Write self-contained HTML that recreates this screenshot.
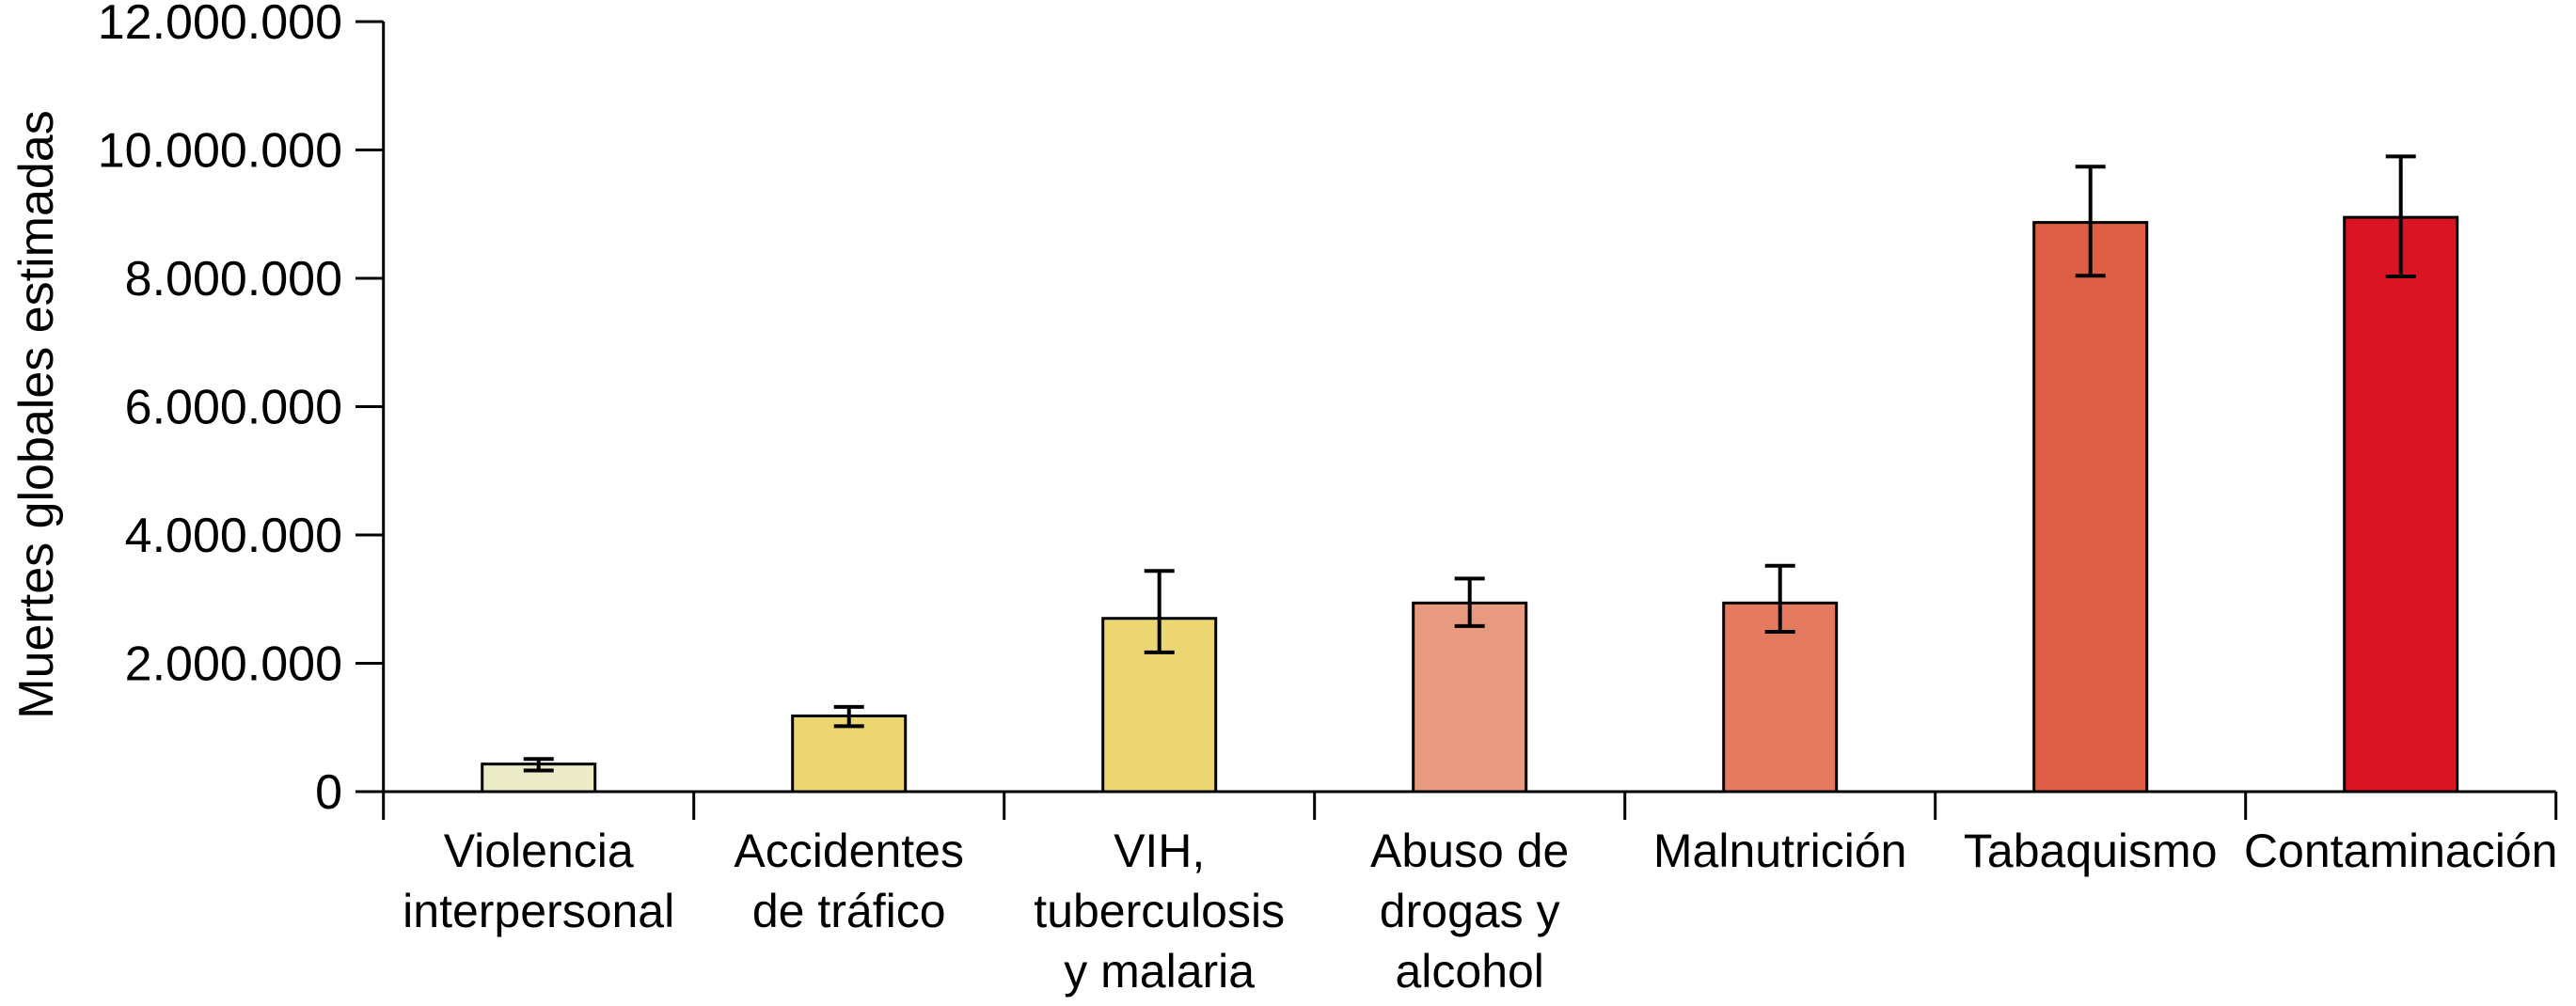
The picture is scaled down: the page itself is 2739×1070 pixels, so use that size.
<!DOCTYPE html>
<html><head><meta charset="utf-8"><style>
html,body{margin:0;padding:0;background:#fff;}
svg{display:block;font-family:"Liberation Sans",Arial,sans-serif;}
</style></head><body>
<svg id="chart" width="2739" height="1070" viewBox="0 0 2739 1070" xmlns="http://www.w3.org/2000/svg">
<text transform="translate(56,441) rotate(-90)" text-anchor="middle" font-size="52" fill="#000">Muertes globales estimadas</text>
<g id="axes"></g><g id="bars"></g><g id="labels"></g>
</svg>
<script>
const categories = [["Violencia","interpersonal"],["Accidentes","de tráfico"],["VIH,","tuberculosis","y malaria"],["Abuso de","drogas y","alcohol"],["Malnutrición"],["Tabaquismo"],["Contaminación"]];
const values = [0.43, 1.18, 2.70, 2.94, 2.94, 8.87, 8.95];
const errLow = [0.33, 1.02, 2.17, 2.58, 2.49, 8.04, 8.03];
const errHigh = [0.51, 1.32, 3.44, 3.32, 3.52, 9.74, 9.90];
const colors = ["#ecebc8","#ecd672","#ecd672","#e89a80","#e47a60","#de5f45","#d91523"];
const yTicks = [0,2,4,6,8,10,12];
const yTickLabels = ["0","2.000.000","4.000.000","6.000.000","8.000.000","10.000.000","12.000.000"];

const NS="http://www.w3.org/2000/svg";
const x0=407.7, groupW=330, y0=842, yTop=23, yMax=12;
const y=v=>y0-(v/yMax)*(y0-yTop);
const xc=i=>x0+groupW*(i+0.5);
function mk(tag,attrs,parent){const e=document.createElementNS(NS,tag);for(const k in attrs)e.setAttribute(k,attrs[k]);parent.appendChild(e);return e;}
const axes=document.getElementById('axes'),bars=document.getElementById('bars'),labels=document.getElementById('labels');
const xEnd=x0+groupW*categories.length;
let l=mk('line',{x1:x0,y1:yTop,x2:x0,y2:y0+30,stroke:'#000','stroke-width':3},axes);


l=mk('line',{x1:378,y1:y0,x2:xEnd,y2:y0,stroke:'#000','stroke-width':3},axes);


yTicks.forEach((t,i)=>{
  const tk=mk('line',{x1:378,y1:y(t),x2:x0,y2:y(t),stroke:'#000','stroke-width':3},axes);
  
  
  const tx=mk('text',{x:364,y:y(t)+18,'text-anchor':'end','font-size':52,fill:'#000'},axes);
  tx.textContent=yTickLabels[i];
  
  
});
for(let i=1;i<=categories.length;i++){
  const tk=mk('line',{x1:x0+groupW*i,y1:y0,x2:x0+groupW*i,y2:y0+30,stroke:'#000','stroke-width':3},axes);
  
  
}
values.forEach((v,i)=>{
  const bw=120,cx=xc(i);
  const r=mk('rect',{x:cx-bw/2,y:y(v),width:bw,height:y0-y(v),fill:colors[i],stroke:'#000','stroke-width':3},bars);
  
  
  const g=mk('g',{stroke:'#000','stroke-width':4},bars);
  
  
  mk('line',{x1:cx,y1:y(errHigh[i]),x2:cx,y2:y(errLow[i])},g);
  mk('line',{x1:cx-16,y1:y(errHigh[i]),x2:cx+16,y2:y(errHigh[i])},g);
  mk('line',{x1:cx-16,y1:y(errLow[i]),x2:cx+16,y2:y(errLow[i])},g);
  const t=mk('text',{x:cx,y:922,'text-anchor':'middle','font-size':50,fill:'#000'},labels);
  
  
  categories[i].forEach((s,j)=>{const ts=mk('tspan',{x:cx,dy:j?64:0},t);ts.textContent=s;});
});
</script>
</body></html>
